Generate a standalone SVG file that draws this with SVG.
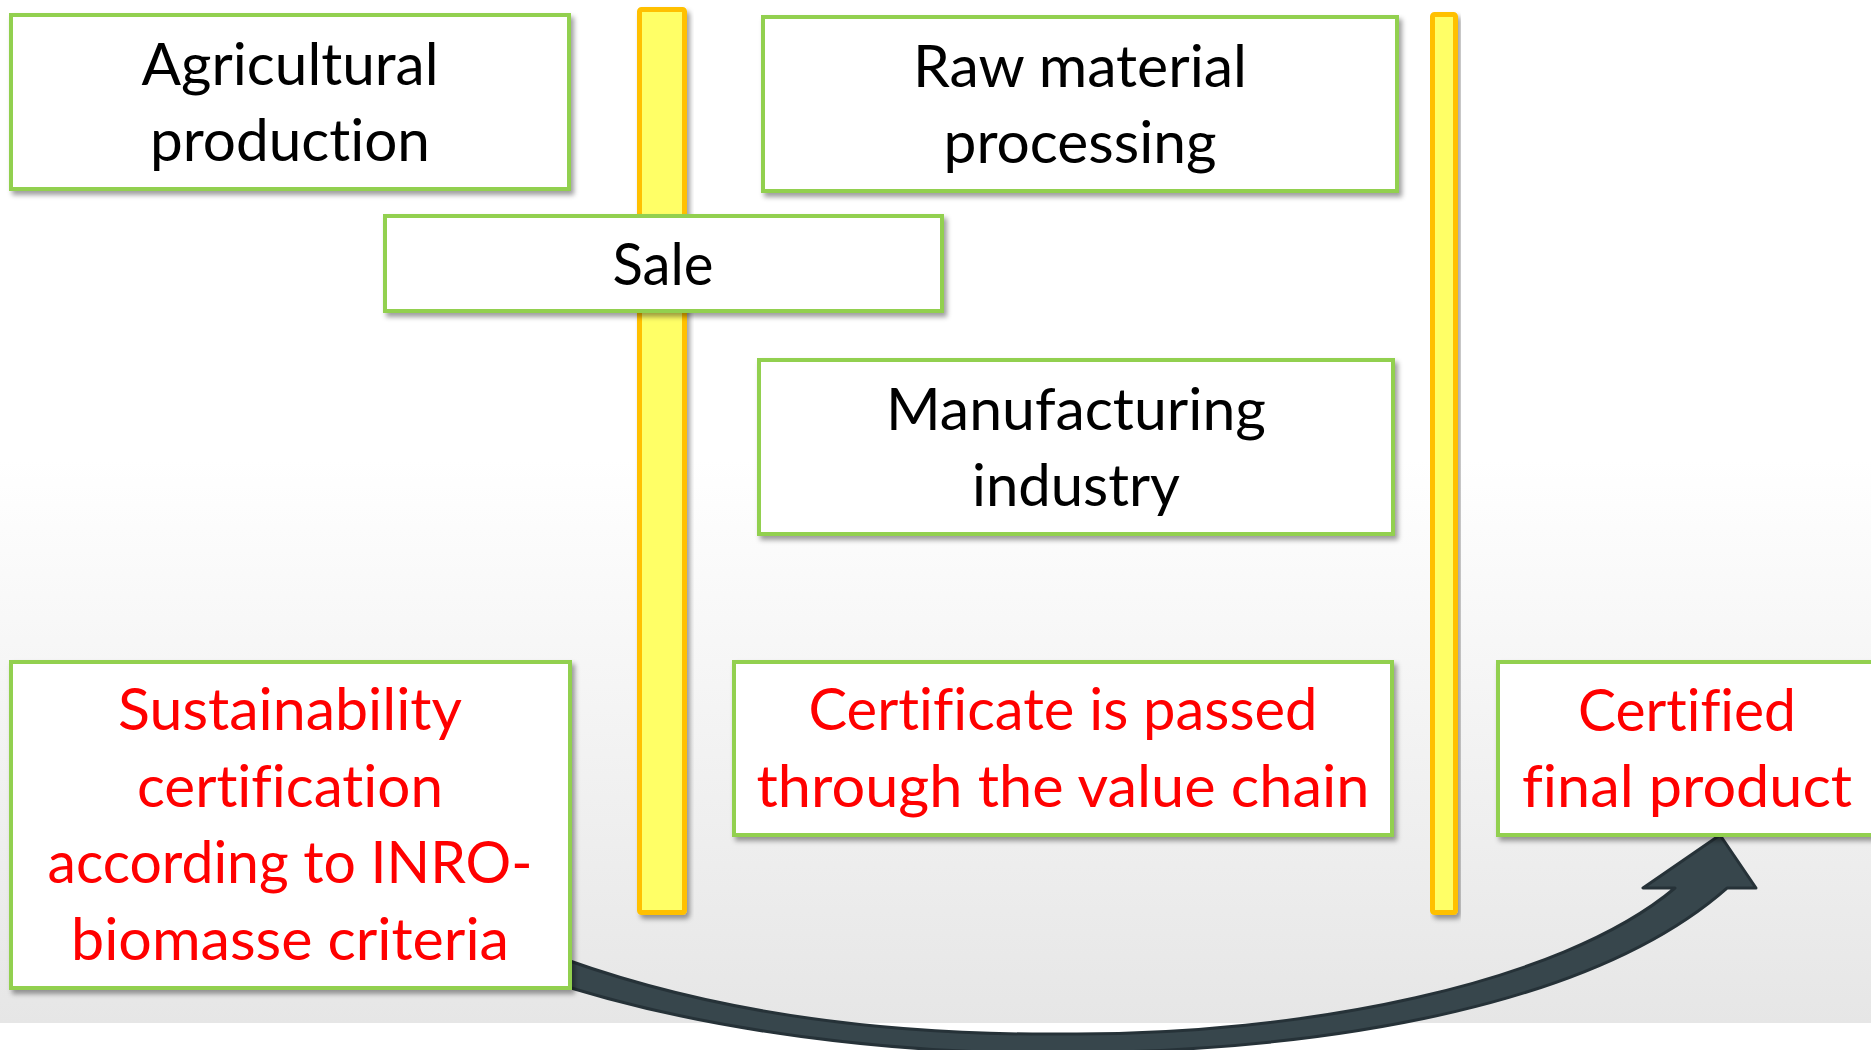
<svg xmlns="http://www.w3.org/2000/svg" width="1871" height="1050" viewBox="0 0 1871 1050">
  <defs>
    <linearGradient id="bgGrad" x1="0" y1="0" x2="0" y2="1023" gradientUnits="userSpaceOnUse">
      <stop offset="0" stop-color="#ffffff"/>
      <stop offset="0.45" stop-color="#ffffff"/>
      <stop offset="1" stop-color="#e6e6e6"/>
    </linearGradient>
    <filter id="shadow" x="-10%" y="-10%" width="130%" height="130%">
      <feDropShadow dx="3" dy="4" stdDeviation="2.5" flood-color="#000000" flood-opacity="0.38"/>
    </filter>
    <style>
      .box { fill: #ffffff; stroke: #92d050; stroke-width: 4; filter: url(#shadow); }
      .bar { fill: #ffff66; stroke: #ffc000; stroke-width: 5; filter: url(#shadow); }
      .lbl { font-family: Lato, "Liberation Sans", Arial, sans-serif; font-size: 59px; text-anchor: middle;
             font-variant-ligatures: none; font-feature-settings: "liga" 0, "dlig" 0; }
      .blk { fill: #000000; }
      .red { fill: #ff0000; }
      .arrow { fill: #37464c; stroke: #263238; stroke-width: 3; stroke-linejoin: round; }
    </style>
  </defs>

  <!-- backdrop -->
  <rect x="0" y="0" width="1871" height="1050" fill="#ffffff"/>
  <rect x="0" y="0" width="1871" height="1023" fill="url(#bgGrad)"/>

  <!-- stage separators -->
  <g id="separators">
    <rect class="bar" x="639.5" y="9.5" width="45" height="903" rx="2"/>
    <rect class="bar" x="1432.5" y="14.5" width="23" height="898" rx="2"/>
  </g>

  <!-- curved arrow carrying the certificate to the final product -->
  <g id="connectors">
    <path class="arrow" d="M 540 978
      C 700 1032, 900 1055, 1070 1053
      C 1350 1050, 1600 1000, 1727 888
      L 1756 888 L 1720 835 L 1643 888 L 1675 888
      C 1560 985, 1300 1035, 1070 1034
      C 880 1036, 700 1012, 540 950 Z"/>
  </g>

  <g id="agricultural-production">
    <rect class="box" x="11" y="15" width="558" height="174"/>
    <text class="lbl blk" x="290" y="85" textLength="297" lengthAdjust="spacingAndGlyphs">Agricultural</text>
    <text class="lbl blk" x="290" y="161" textLength="280" lengthAdjust="spacingAndGlyphs">production</text>
  </g>

  <g id="raw-material-processing">
    <rect class="box" x="763" y="17" width="634" height="174"/>
    <text class="lbl blk" x="1080" y="87" textLength="334" lengthAdjust="spacingAndGlyphs">Raw material</text>
    <text class="lbl blk" x="1080" y="163" textLength="273" lengthAdjust="spacingAndGlyphs">processing</text>
  </g>

  <g id="sale">
    <rect class="box" x="385" y="216" width="557" height="95"/>
    <text class="lbl blk" x="663" y="285" textLength="101" lengthAdjust="spacingAndGlyphs">Sale</text>
  </g>

  <g id="manufacturing-industry">
    <rect class="box" x="759" y="360" width="634" height="174"/>
    <text class="lbl blk" x="1076" y="430" textLength="380" lengthAdjust="spacingAndGlyphs">Manufacturing</text>
    <text class="lbl blk" x="1076" y="506" textLength="208" lengthAdjust="spacingAndGlyphs">industry</text>
  </g>

  <g id="sustainability-certification">
    <rect class="box" x="11" y="662" width="559" height="326"/>
    <text class="lbl red" x="290" y="730" textLength="344" lengthAdjust="spacingAndGlyphs">Sustainability</text>
    <text class="lbl red" x="290" y="807" textLength="306" lengthAdjust="spacingAndGlyphs">certification</text>
    <text class="lbl red" x="290" y="883" textLength="485" lengthAdjust="spacingAndGlyphs">according to INRO-</text>
    <text class="lbl red" x="290" y="960" textLength="438" lengthAdjust="spacingAndGlyphs">biomasse criteria</text>
  </g>

  <g id="certificate-passed">
    <rect class="box" x="734" y="662" width="658" height="173"/>
    <text class="lbl red" x="1063" y="730" textLength="509" lengthAdjust="spacingAndGlyphs">Certificate is passed</text>
    <text class="lbl red" x="1063" y="807" textLength="613" lengthAdjust="spacingAndGlyphs">through the value chain</text>
  </g>

  <g id="certified-final-product">
    <rect class="box" x="1498" y="662" width="378" height="173"/>
    <text class="lbl red" x="1687" y="731" textLength="218" lengthAdjust="spacingAndGlyphs">Certified</text>
    <text class="lbl red" x="1687" y="807" textLength="330" lengthAdjust="spacingAndGlyphs">final product</text>
  </g>
</svg>
